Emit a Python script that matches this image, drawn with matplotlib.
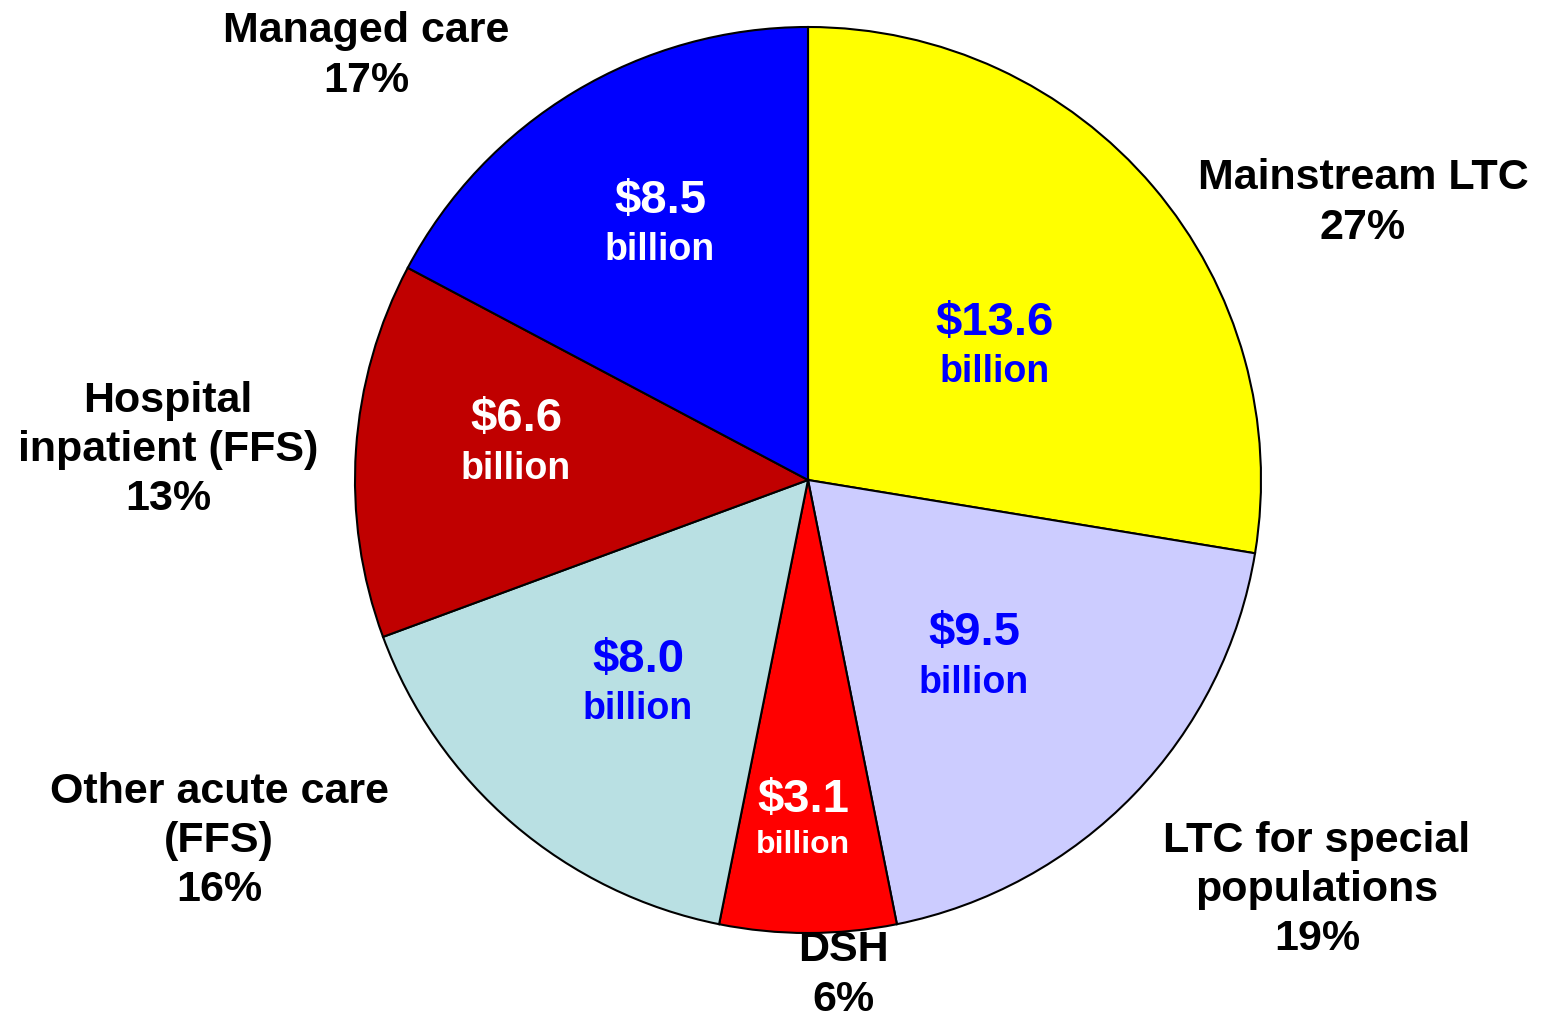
import matplotlib
matplotlib.use('Agg')
import matplotlib.pyplot as plt

plt.rcParams['font.family'] = ['Liberation Sans', 'DejaVu Sans']

# data
categories = ['Mainstream LTC', 'LTC for special\npopulations', 'DSH',
              'Other acute care\n(FFS)', 'Hospital\ninpatient (FFS)', 'Managed care']
spending = [13.6, 9.5, 3.1, 8.0, 6.6, 8.5]  # $ billion
percents = ['27%', '19%', '6%', '16%', '13%', '17%']
colors = ['#FFFF00', '#CCCCFF', '#FF0000', '#B9E0E3', '#C00000', '#0000FF']
value_colors = ['#0000FF', '#0000FF', 'white', '#0000FF', 'white', 'white']

# pixel layout of the original (centre 808,480, radius 453)
CX, CY, R = 808, 480, 453


def px(x, y):
    return (x - CX) / R, (CY - y) / R


name_pos = [(1363, 203), (1317, 890), (843, 975), (219, 841), (168, 450), (366, 56)]
value_pos = [(995, 323), (974, 633), (803, 800), (638, 660), (516, 419), (660, 201)]
billion_pos = [(995, 372), (974, 683), (803, 845), (638, 709), (516, 469), (660, 250)]

fig = plt.figure(figsize=(15.44, 10.21), dpi=100)
ax = fig.add_axes([0, 0, 1, 1])
ax.pie(spending, colors=colors, startangle=90, counterclock=False, radius=1,
       wedgeprops=dict(edgecolor='black', linewidth=1.5))
ax.set_xlim(-CX / R, (1544 - CX) / R)
ax.set_ylim((CY - 1021) / R, CY / R)
ax.set_aspect('equal')
ax.axis('off')

for i, name in enumerate(categories):
    x, y = px(*name_pos[i])
    ax.text(x, y, name + '\n' + percents[i], ha='center', va='center',
            fontsize=31, fontweight='bold', linespacing=1.3)
    small = i == 2
    x, y = px(*value_pos[i])
    ax.text(x, y, '$%.1f' % spending[i], ha='center', va='center',
            fontsize=34, fontweight='bold', color=value_colors[i])
    x, y = px(*billion_pos[i])
    ax.text(x, y, 'billion', ha='center', va='center',
            fontsize=23 if small else 27, fontweight='bold', color=value_colors[i])

fig.savefig('out.png', dpi=100)
